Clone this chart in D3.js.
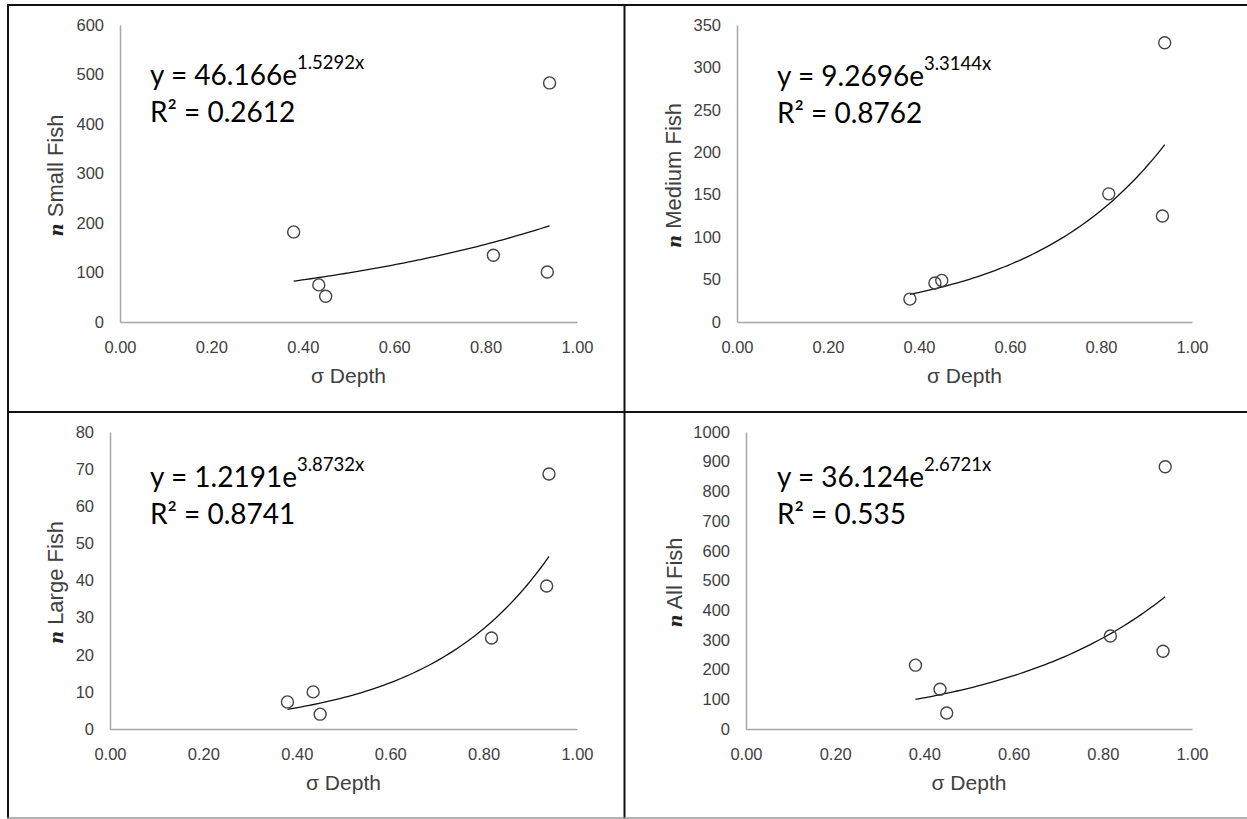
<!DOCTYPE html>
<html><head><meta charset="utf-8">
<script src="https://cdn.jsdelivr.net/npm/d3@7"></script>
<style>body{margin:0;background:#fff} svg{display:block}</style>
</head><body><svg id="c" width="1247" height="819"></svg>
<script>
// ---- data ----
const sigmaDepth = [0.38, 0.435, 0.45, 0.817, 0.935, 0.94];
const smallFish  = [182, 75, 52, 135, 101, 483];
const mediumFish = [27, 46, 49, 151, 125, 329];
const largeFish  = [7.3, 10, 4, 24.5, 38.5, 68.7];
const allFish    = [215, 134, 54, 313, 262, 883];
const fitA       = [46.166, 9.2696, 1.2191, 36.124];
const fitB       = [1.5292, 3.3144, 3.8732, 2.6721];
const fitAText   = ["46.166", "9.2696", "1.2191", "36.124"];
const fitBText   = ["1.5292", "3.3144", "3.8732", "2.6721"];
const fitR2Text  = ["0.2612", "0.8762", "0.8741", "0.535"];
const yTitles    = ["Small Fish", "Medium Fish", "Large Fish", "All Fish"];
const yMax       = [600, 350, 80, 1000];
const yStep      = [100, 50, 10, 100];
const xTicks     = [0, 0.2, 0.4, 0.6, 0.8, 1.0];
const xTitle     = "σ Depth";

const series = [smallFish, mediumFish, largeFish, allFish];

// ---- layout ----
const layout = [
  {x0:120, x1:577,  yTop:25,  yBot:322, eqX:150, eqY:85,  titleX:63},
  {x0:737, x1:1192, yTop:25,  yBot:322, eqX:777, eqY:86,  titleX:681},
  {x0:110, x1:577,  yTop:432, yBot:729, eqX:150, eqY:487, titleX:63},
  {x0:746, x1:1192, yTop:432, yBot:729, eqX:777, eqY:487, titleX:682}
];

const svg = d3.select("#c");
svg.append("rect").attr("width",1247).attr("height",819).attr("fill","#fff");

// table grid
const g0 = svg.append("g").attr("stroke","#111").attr("stroke-width",2);
g0.append("line").attr("x1",7).attr("x2",1247).attr("y1",5).attr("y2",5);
g0.append("line").attr("x1",8).attr("x2",8).attr("y1",4).attr("y2",819);
g0.append("line").attr("x1",624.5).attr("x2",624.5).attr("y1",4).attr("y2",819);
g0.append("line").attr("x1",7).attr("x2",1247).attr("y1",412).attr("y2",412);
svg.append("line").attr("x1",7).attr("x2",1247).attr("y1",818).attr("y2",818)
   .attr("stroke","#999").attr("stroke-width",1.5);

const tickFont = "'Liberation Sans', Arial, sans-serif";
const textCol = "#404040";

series.forEach((vals, i) => {
  const L = layout[i];
  const x = d3.scaleLinear().domain([0, 1]).range([L.x0, L.x1]);
  const y = d3.scaleLinear().domain([0, yMax[i]]).range([L.yBot, L.yTop]);
  const g = svg.append("g");

  // axes
  const xAxis = d3.axisBottom(x).tickValues(xTicks).tickSize(0).tickPadding(19)
    .tickFormat(d3.format(".2f"));
  const yAxis = d3.axisLeft(y).tickValues(d3.range(0, yMax[i] + yStep[i] / 2, yStep[i]))
    .tickSize(0).tickPadding(16).tickFormat(d3.format("d"));

  const gx = g.append("g").attr("transform", `translate(0,${L.yBot})`).call(xAxis);
  const gy = g.append("g").attr("transform", `translate(${L.x0},0)`).call(yAxis);
  [gx, gy].forEach(a => {
    a.select(".domain").attr("stroke", "#a6a6a6").attr("stroke-width", 1.5);
    a.selectAll("text").attr("font-family", tickFont).attr("font-size", 16.5)
      .attr("fill", textCol);
  });

  // x title
  g.append("text").attr("x", (L.x0 + L.x1) / 2).attr("y", L.yBot + 61)
    .attr("text-anchor", "middle").attr("font-family", tickFont)
    .attr("font-size", 21).attr("fill", textCol).text(xTitle);

  // y title
  const yt = g.append("text")
    .attr("transform", `translate(${L.titleX},${(L.yTop + L.yBot) / 2 + 2}) rotate(-90)`)
    .attr("text-anchor", "middle").attr("font-family", tickFont)
    .attr("font-size", 22).attr("fill", textCol);
  yt.append("tspan").attr("font-family", "'DejaVu Serif', 'Liberation Serif', serif")
    .attr("font-weight", "bold").attr("font-style", "italic").attr("font-size", 18)
    .attr("fill", "#222").text("n");
  yt.append("tspan").text(" " + yTitles[i]);

  // trend line from fitted equation
  const xmin = d3.min(sigmaDepth), xmax = d3.max(sigmaDepth);
  const pts = d3.range(0, 61).map(k => {
    const xv = xmin + (xmax - xmin) * k / 60;
    return [xv, fitA[i] * Math.exp(fitB[i] * xv)];
  });
  g.append("path").attr("d", d3.line().x(d => x(d[0])).y(d => y(d[1]))(pts))
    .attr("fill", "none").attr("stroke", "#111").attr("stroke-width", 1.3);

  // points
  g.selectAll("circle.pt").data(vals).join("circle").attr("class", "pt")
    .attr("cx", (d, j) => x(sigmaDepth[j])).attr("cy", d => y(d)).attr("r", 6)
    .attr("fill", "none").attr("stroke", "#444").attr("stroke-width", 1.4);

  // equation
  const eqFont = "Lato, 'Open Sans', sans-serif";
  const t1 = g.append("text").attr("x", L.eqX).attr("y", L.eqY)
    .attr("font-family", eqFont).attr("font-size", 28).attr("fill", "#000");
  t1.append("tspan").text("y = " + fitAText[i] + "e");
  t1.append("tspan").attr("dy", -16).attr("font-size", 18.5).text(fitBText[i] + "x");
  g.append("text").attr("x", L.eqX).attr("y", L.eqY + 37)
    .attr("font-family", eqFont).attr("font-size", 28).attr("fill", "#000")
    .text("R² = " + fitR2Text[i]);
});
</script></body></html>
